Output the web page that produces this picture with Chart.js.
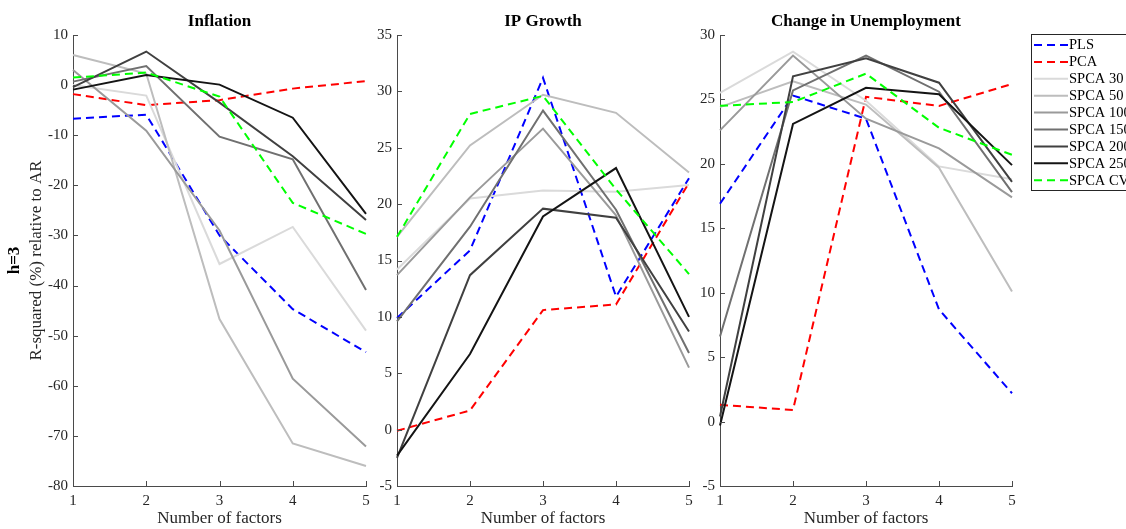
<!DOCTYPE html>
<html>
<head>
<meta charset="utf-8">
<script src="https://cdn.jsdelivr.net/npm/chart.js@4.4.1/dist/chart.umd.min.js"></script>
<style>
  html, body { margin: 0; padding: 0; background: #ffffff; }
  body { width: 1126px; height: 529px; position: relative; overflow: hidden; }
  canvas { position: absolute; top: 0; }
</style>
</head>
<body>
<canvas id="c1" width="380" height="529" style="left:0px"></canvas>
<canvas id="c2" width="330" height="529" style="left:370px"></canvas>
<canvas id="c3" width="433" height="529" style="left:693px"></canvas>
<script>
// ---------------- DATA ----------------
const factors = ['1', '2', '3', '4', '5'];
const seriesNames = ['PLS', 'PCA', 'SPCA 30', 'SPCA 50', 'SPCA 100', 'SPCA 150', 'SPCA 200', 'SPCA 250', 'SPCA CV'];

// Inflation
const inflPLS     = [-6.7, -5.9, -30.0, -44.7, -53.3];
const inflPCA     = [-1.8, -4.0, -3.0, -0.7, 0.8];
const inflSPCA30  = [0.0, -2.1, -35.7, -28.3, -49.0];
const inflSPCA50  = [6.0, 2.3, -46.7, -71.5, -76.0];
const inflSPCA100 = [3.0, -9.1, -29.0, -58.6, -72.1];
const inflSPCA150 = [0.7, 3.8, -10.3, -14.8, -40.9];
const inflSPCA200 = [-0.4, 6.7, -3.5, -14.2, -26.9];
const inflSPCA250 = [-0.9, 2.0, 0.1, -6.5, -25.7];
const inflSPCACV  = [1.5, 2.5, -2.3, -23.5, -29.7];

// IP Growth
const ipPLS     = [9.9, 15.9, 31.2, 11.8, 22.3];
const ipPCA     = [-0.1, 1.7, 10.6, 11.1, 21.9];
const ipSPCA30  = [14.2, 20.5, 21.2, 21.1, 21.7];
const ipSPCA50  = [17.1, 25.2, 29.7, 28.1, 22.8];
const ipSPCA100 = [13.7, 20.6, 26.7, 19.0, 5.5];
const ipSPCA150 = [9.6, 18.0, 28.3, 19.5, 6.8];
const ipSPCA200 = [-2.5, 13.7, 19.6, 18.8, 8.7];
const ipSPCA250 = [-2.3, 6.7, 18.9, 23.2, 10.0];
const ipSPCACV  = [17.1, 28.0, 29.6, 21.3, 13.8];

// Change in Unemployment
const unPLS     = [16.9, 25.3, 23.5, 8.7, 2.2];
const unPCA     = [1.3, 0.9, 25.2, 24.5, 26.2];
const unSPCA30  = [25.5, 28.7, 24.9, 19.8, 18.8];
const unSPCA50  = [24.4, 26.4, 24.6, 19.7, 10.1];
const unSPCA100 = [22.6, 28.4, 23.5, 21.2, 17.4];
const unSPCA150 = [6.6, 25.7, 28.4, 25.6, 17.8];
const unSPCA200 = [0.4, 26.8, 28.2, 26.3, 18.6];
const unSPCA250 = [-0.3, 23.1, 25.9, 25.4, 19.9];
const unSPCACV  = [24.5, 24.8, 27.0, 22.8, 20.7];

const inflationTicks = { min: -80, max: 10, step: 10 };
const ipTicks = { min: -5, max: 35, step: 5 };
const unempTicks = { min: -5, max: 30, step: 5 };

// ---------------- STYLE ----------------
const SERIF = '"Liberation Serif", "Times New Roman", serif';
const AXIS_COLOR = '#4a4a4a';
const TEXT_COLOR = '#262626';
const seriesColors = ['#0000ff', '#ff0000', '#dadada', '#bdbdbd', '#9a9a9a', '#707070', '#404040', '#141414', '#00ff00'];
const seriesDashed = [true, true, false, false, false, false, false, false, true];

function buildDatasets(valueLists) {
  return valueLists.map((vals, i) => ({
    label: seriesNames[i],
    data: vals,
    borderColor: seriesColors[i],
    backgroundColor: seriesColors[i],
    borderWidth: 2,
    borderDash: seriesDashed[i] ? [8, 5] : [],
    pointRadius: 0,
    pointHoverRadius: 0,
    tension: 0,
    fill: false,
    order: valueLists.length - i
  }));
}

const decorPlugin = {
  id: 'decor',
  afterDraw(chart, args, opts) {
    const ctx = chart.ctx;
    const { left, right, bottom } = chart.chartArea;
    const xs = chart.scales.x, ys = chart.scales.y;
    ctx.save();
    // inward tick marks
    ctx.strokeStyle = AXIS_COLOR;
    ctx.lineWidth = 1;
    ctx.setLineDash([]);
    ctx.beginPath();
    ys.ticks.forEach(t => {
      const y = Math.round(ys.getPixelForValue(t.value)) + 0.5;
      ctx.moveTo(left, y); ctx.lineTo(left + 5, y);
    });
    xs.ticks.forEach((t, i) => {
      const x = Math.round(xs.getPixelForTick(i)) + 0.5;
      ctx.moveTo(x, bottom); ctx.lineTo(x, bottom - 5);
    });
    ctx.stroke();
    // panel title
    ctx.fillStyle = '#000000';
    ctx.font = 'bold 17px ' + SERIF;
    ctx.textAlign = 'center';
    ctx.textBaseline = 'middle';
    ctx.fillText(opts.title, (left + right) / 2, 22);
    // side label
    if (opts.sideLabel) {
      ctx.save();
      ctx.translate(15, (chart.chartArea.top + bottom) / 2);
      ctx.rotate(-Math.PI / 2);
      ctx.fillText(opts.sideLabel, 0, 0);
      ctx.restore();
    }
    // legend
    if (opts.legend) {
      const lg = opts.legend;
      const ds = chart.data.datasets;
      ctx.fillStyle = '#ffffff';
      ctx.fillRect(lg.x, lg.y, lg.w, lg.h);
      ctx.strokeStyle = TEXT_COLOR;
      ctx.lineWidth = 1;
      ctx.strokeRect(lg.x + 0.5, lg.y + 0.5, lg.w, lg.h);
      ctx.font = '14.5px ' + SERIF;
      ctx.textAlign = 'left';
      ctx.textBaseline = 'middle';
      ds.forEach((d, i) => {
        const y = lg.y + lg.first + i * lg.row;
        ctx.strokeStyle = d.borderColor;
        ctx.lineWidth = 2;
        ctx.setLineDash(d.borderDash);
        ctx.beginPath();
        ctx.moveTo(lg.x + 3, y);
        ctx.lineTo(lg.x + 37, y);
        ctx.stroke();
        ctx.setLineDash([]);
        ctx.fillStyle = '#000000';
        ctx.fillText(d.label, lg.x + 38, y + 0.5);
      });
    }
    ctx.restore();
  }
};

function makeChart(id, valueLists, ticks, yAxisWidth, padRight, decor, yTitle) {
  const ctx = document.getElementById(id).getContext('2d');
  return new Chart(ctx, {
    type: 'line',
    data: { labels: factors, datasets: buildDatasets(valueLists) },
    options: {
      responsive: false,
      animation: false,
      events: [],
      layout: { autoPadding: false, padding: { left: 0, right: padRight, top: 35, bottom: 0 } },
      plugins: {
        legend: { display: false },
        tooltip: { enabled: false },
        title: { display: false },
        decor: decor
      },
      scales: {
        x: {
          type: 'category',
          offset: false,
          grid: { display: false, drawTicks: false },
          border: { display: true, color: AXIS_COLOR, width: 1 },
          ticks: { color: TEXT_COLOR, font: { family: SERIF, size: 15 }, padding: 6, maxRotation: 0, autoSkip: false },
          title: { display: true, text: 'Number of factors', color: TEXT_COLOR, font: { family: SERIF, size: 17 }, padding: { top: 0, bottom: 0 } },
          afterFit(scale) { scale.height = 43; }
        },
        y: {
          type: 'linear',
          min: ticks.min,
          max: ticks.max,
          grid: { display: false, drawTicks: false },
          border: { display: true, color: AXIS_COLOR, width: 1 },
          ticks: { stepSize: ticks.step, color: TEXT_COLOR, font: { family: SERIF, size: 15 }, padding: 5 },
          title: yTitle ? { display: true, text: yTitle, color: TEXT_COLOR, font: { family: SERIF, size: 17 }, padding: { top: 26, bottom: 0 } } : { display: false },
          afterFit(scale) { scale.width = yAxisWidth; }
        }
      }
    },
    plugins: [decorPlugin]
  });
}

makeChart('c1',
  [inflPLS, inflPCA, inflSPCA30, inflSPCA50, inflSPCA100, inflSPCA150, inflSPCA200, inflSPCA250, inflSPCACV],
  inflationTicks, 73, 14, { title: 'Inflation', sideLabel: 'h=3' }, 'R-squared (%) relative to AR');

makeChart('c2',
  [ipPLS, ipPCA, ipSPCA30, ipSPCA50, ipSPCA100, ipSPCA150, ipSPCA200, ipSPCA250, ipSPCACV],
  ipTicks, 27, 11, { title: 'IP Growth' }, null);

makeChart('c3',
  [unPLS, unPCA, unSPCA30, unSPCA50, unSPCA100, unSPCA150, unSPCA200, unSPCA250, unSPCACV],
  unempTicks, 27, 114, { title: 'Change in Unemployment', legend: { x: 338, y: 34, w: 110, h: 156, first: 11, row: 16.9 } }, null);
</script>
</body>
</html>
